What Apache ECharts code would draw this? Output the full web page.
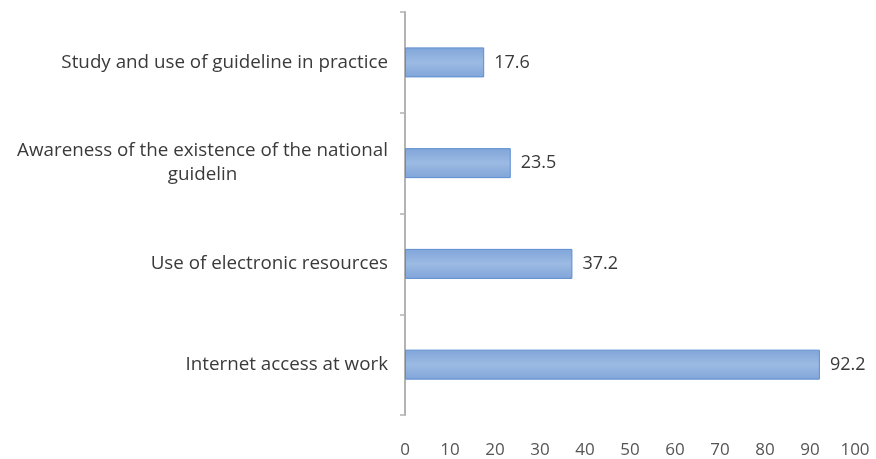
<!DOCTYPE html>
<html><head><meta charset="utf-8">
<script src="https://cdn.jsdelivr.net/npm/echarts@6/dist/echarts.min.js"></script>
<style>html,body{margin:0;padding:0;background:#fff}#c{width:876px;height:459px}</style>
</head><body><div id="c"></div>
<script>
const categories = [
  "Internet access at work",
  "Use of electronic resources",
  "Awareness of the existence of the national\nguidelin",
  "Study and use of guideline in practice"
];
const values = [92.2, 37.2, 23.5, 17.6];
const xTicks = [0, 10, 20, 30, 40, 50, 60, 70, 80, 90, 100];

const LABEL_SIZE = 18.8;
const LABEL_FONT = LABEL_SIZE + "px 'Open Sans'";
const ctx = document.createElement('canvas').getContext('2d');
function textWidth(s) { ctx.font = LABEL_FONT; return Math.ceil(ctx.measureText(s).width); }
const widest = Math.max.apply(null, categories.map(c => Math.max.apply(null, c.split('\n').map(textWidth))));

const chart = echarts.init(document.getElementById('c'));
chart.setOption({
  animation: false,
  grid: { left: 405, right: 21, top: 12, bottom: 44 },
  xAxis: {
    type: 'value', min: xTicks[0], max: xTicks[xTicks.length - 1], interval: 10,
    axisLine: { show: false }, axisTick: { show: false }, splitLine: { show: false },
    axisLabel: { color: '#555555', fontFamily: 'Open Sans', fontSize: 17, margin: 27 }
  },
  yAxis: {
    type: 'category', data: categories,
    axisLine: { show: true, lineStyle: { color: '#b3b3b3', width: 2 } },
    axisTick: { show: true, length: 5, lineStyle: { color: '#b3b3b3', width: 1.5 } },
    axisLabel: {
      color: '#3a3a3a', fontFamily: 'Open Sans', fontSize: LABEL_SIZE, margin: 17, align: 'right',
      lineHeight: 24,
      formatter: function (v) {
        const lines = v.split('\n');
        if (lines.length === 1) return v;
        return lines.map(l => '{c|' + l + '}').join('\n');
      },
      rich: { c: { fontFamily: 'Open Sans', fontSize: LABEL_SIZE, color: '#3a3a3a', lineHeight: 24, align: 'center',
        width: widest } }
    }
  },
  series: [{
    type: 'bar', data: values, barWidth: 30,
    itemStyle: {
      color: new echarts.graphic.LinearGradient(0, 0, 0, 1, [
        { offset: 0, color: '#80a5d9' }, { offset: 0.5, color: '#9cbae3' }, { offset: 1, color: '#80a5d9' }
      ]),
      borderColor: '#5d8dd0', borderWidth: 1
    },
    label: { show: true, position: 'right', distance: 10, color: '#3a3a3a', fontFamily: 'Open Sans', fontSize: 18 }
  }]
});
</script></body></html>
